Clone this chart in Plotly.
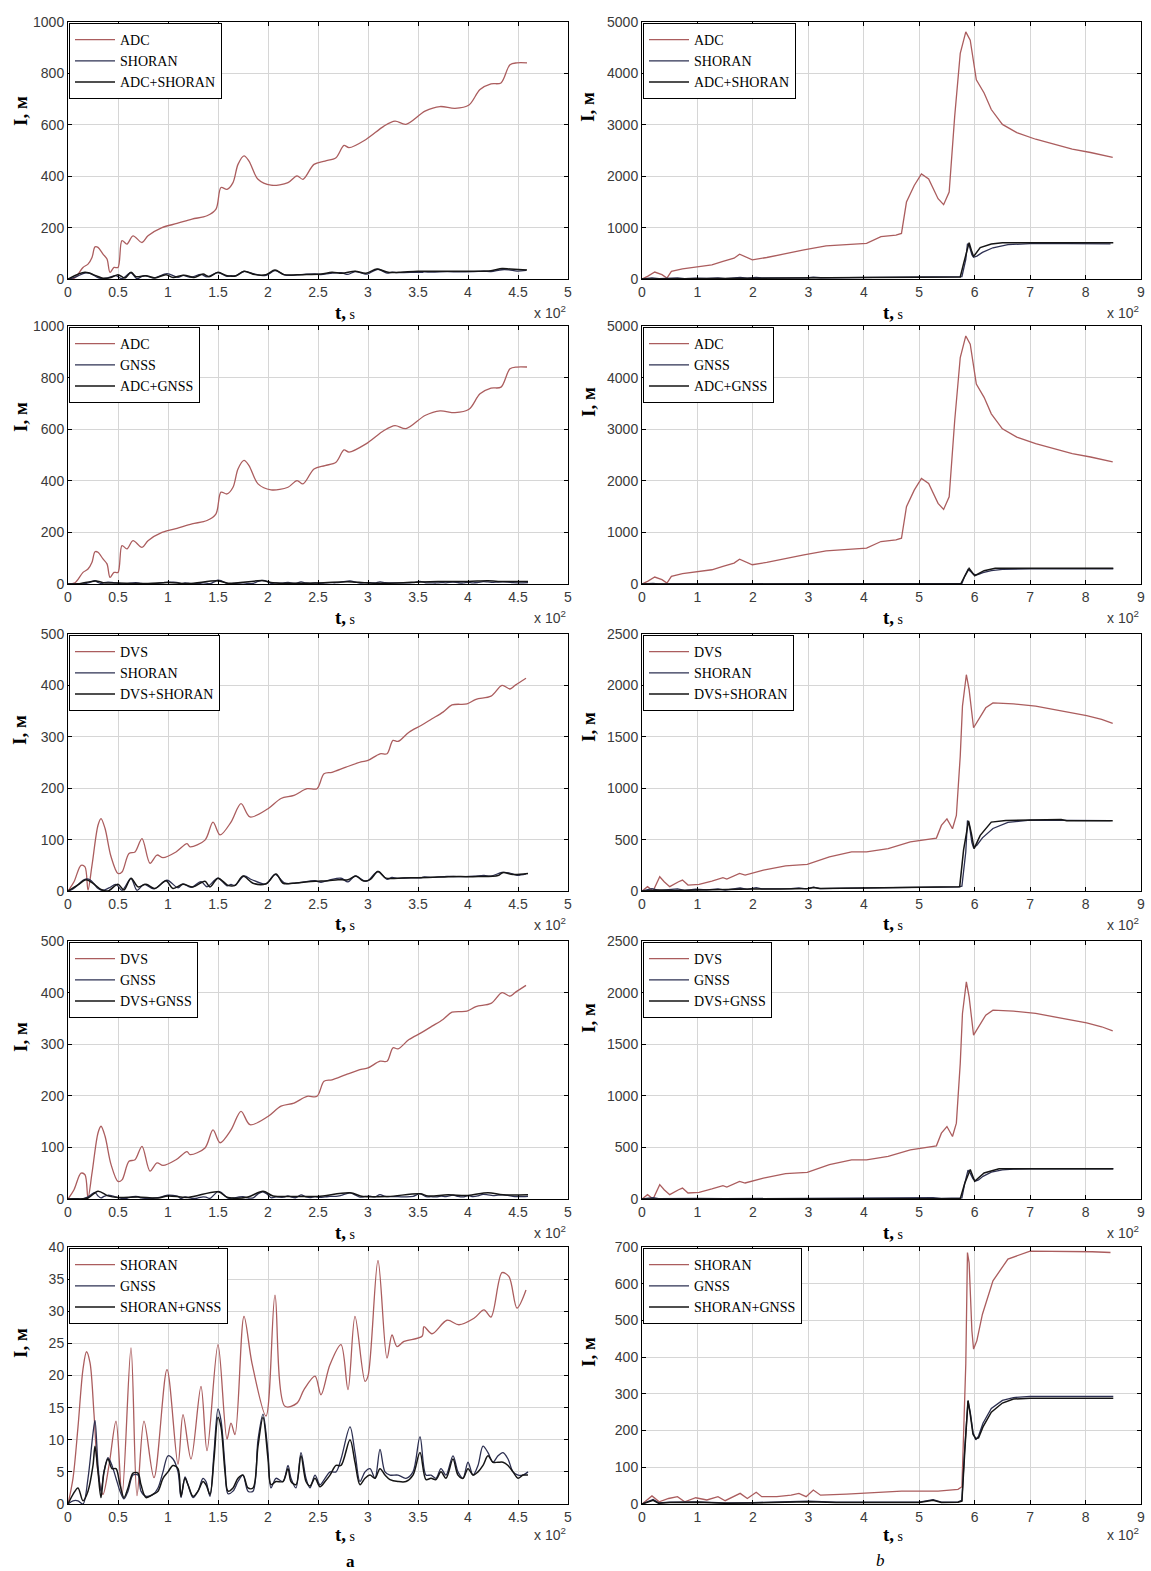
import plotly.graph_objects as go

# ===================== DATA (t in units of 10^2 s, I in m) =====================
# ---- left column (flight a) ----
t_adc_l = [0, 0.07, 0.15, 0.2, 0.24, 0.27, 0.3, 0.35, 0.39, 0.42, 0.46, 0.5, 0.54, 0.59, 0.65, 0.74, 0.8, 0.94, 1.09, 1.24,
           1.39, 1.48, 1.53, 1.59, 1.65, 1.70, 1.76, 1.81, 1.90, 2.03, 2.2, 2.29, 2.35, 2.46, 2.57, 2.68, 2.76, 2.81, 2.98, 3.16,
           3.27, 3.38, 3.57, 3.72, 3.87, 4.01, 4.12, 4.23, 4.33, 4.42, 4.49, 4.59]
adc_l = [0, 5, 45, 58, 84, 125, 123, 97, 78, 26, 45, 45, 149, 136, 168, 142, 168, 200, 216, 233,
         246, 272, 356, 349, 375, 446, 479, 459, 388, 365, 375, 401, 388, 446, 459, 472, 520, 511, 543, 595,
         614, 602, 653, 671, 664, 677, 737, 759, 763, 834, 841, 841]

t_dvs_l = [0, 0.06, 0.13, 0.17, 0.2, 0.24, 0.3, 0.33, 0.37, 0.43, 0.5, 0.54, 0.61, 0.67, 0.74, 0.82, 0.89, 0.95, 1.08, 1.19,
           1.22, 1.37, 1.45, 1.52, 1.63, 1.73, 1.82, 2.0, 2.13, 2.26, 2.39, 2.49, 2.56, 2.64, 2.78, 2.93, 3.0, 3.12, 3.19, 3.25,
           3.30, 3.41, 3.53, 3.64, 3.75, 3.84, 3.99, 4.08, 4.23, 4.34, 4.42, 4.47, 4.58]
dvs_l = [0, 18, 50, 47, 2, 50, 128, 141, 122, 67, 34, 37, 73, 76, 102, 54, 70, 65, 76, 92,
         86, 99, 134, 109, 134, 170, 144, 160, 180, 186, 199, 199, 228, 231, 241, 251, 254, 267, 267, 293,
         291, 309, 322, 335, 348, 362, 364, 373, 379, 400, 393, 400, 414]

t_sh_l = [0, 0.05, 0.1, 0.15, 0.185, 0.22, 0.26, 0.3, 0.35, 0.41, 0.48, 0.54, 0.63, 0.69, 0.76, 0.86, 0.99, 1.10, 1.15, 1.23,
          1.33, 1.39, 1.5, 1.59, 1.63, 1.67, 1.76, 1.84, 1.98, 2.07, 2.17, 2.29, 2.36, 2.47, 2.53, 2.62, 2.73, 2.80, 2.87, 2.97,
          3.0, 3.1, 3.19, 3.24, 3.29, 3.36, 3.54, 3.56, 3.64, 3.79, 3.91, 4.06, 4.16, 4.23, 4.34, 4.41, 4.49, 4.58]
sh_l = [0, 4, 12, 21, 23.7, 22, 14, 5, 1.5, 6, 12.9, 1.3, 24.3, 1.3, 12.9, 4.1, 20.9, 6.2, 13.9, 7,
        18.3, 8.3, 24.8, 10.1, 12.6, 10.8, 29.2, 21.9, 13.7, 32.5, 15.2, 15.7, 17.8, 19.9, 17.0, 21.7, 24.8, 17.8, 29.2, 19.1,
        19.9, 37.9, 22.7, 26.3, 24.5, 25.3, 26.1, 27.6, 26.5, 28.6, 27.9, 28.9, 30.2, 29.1, 36.0, 35.4, 30.5, 33.3]

t_g_l = [0, 0.05, 0.1, 0.15, 0.2, 0.25, 0.27, 0.3, 0.33, 0.36, 0.4, 0.44, 0.48, 0.52, 0.56, 0.6, 0.65, 0.7, 0.73, 0.78,
         0.85, 0.9, 0.95, 1.0, 1.05, 1.1, 1.13, 1.17, 1.2, 1.25, 1.3, 1.35, 1.38, 1.42, 1.46, 1.5, 1.53, 1.57, 1.6, 1.65,
         1.7, 1.75, 1.8, 1.85, 1.9, 1.95, 2.0, 2.03, 2.08, 2.15, 2.2, 2.23, 2.28, 2.33, 2.38, 2.42, 2.47, 2.52, 2.57, 2.62,
         2.68, 2.73, 2.82, 2.87, 2.92, 2.97, 3.02, 3.07, 3.12, 3.17, 3.22, 3.3, 3.38, 3.45, 3.52, 3.58, 3.63, 3.68, 3.73, 3.78,
         3.85, 3.9, 3.95, 4.0, 4.05, 4.1, 4.15, 4.2, 4.25, 4.3, 4.35, 4.4, 4.45, 4.5, 4.55, 4.6]
g_l = [0, 0.5, 0.5, 0, 4, 11, 13, 6, 2, 5, 7.2, 6, 4, 2, 0.8, 2, 4.5, 4.5, 2, 1.2,
       1.5, 2.5, 5, 7.5, 7, 5, 1, 4.2, 3, 1, 2, 4, 3.5, 1.2, 8, 14.8, 13, 6, 1.6, 2,
       3.5, 4.5, 2, 2, 10, 14, 8, 2.5, 4, 3.5, 6, 4, 2.5, 8, 4, 2.5, 4.5, 3, 4, 5,
       5, 7, 12, 8, 3.5, 5, 5.5, 4, 8.5, 5, 4.5, 4.5, 4, 5, 10.5, 4.5, 4.5, 4, 5.5, 4.5,
       7.5, 5, 4, 6.5, 4.5, 6, 9, 8, 6.5, 7.5, 8, 7, 5, 4.5, 4.5, 5]
sh_g_l = [0, 1.5, 2.5, 0.5, 2, 6, 9, 5, 1, 5, 7, 5.5, 5.5, 3, 1, 2.5, 4.8, 4.8, 3, 1,
          1.5, 2, 4, 5, 6, 5.5, 1.2, 4, 3, 1.2, 2, 3.5, 3, 1.5, 7, 13.5, 12, 5, 2, 2.5,
          4, 4.5, 2.5, 2.5, 9, 13.5, 7, 3, 3.5, 3.5, 5.5, 3.5, 3, 7.5, 3.5, 2.8, 4, 2.7, 3.5, 4.5,
          6, 6, 10, 6.5, 3, 4, 4.5, 4, 5.5, 4.5, 3.8, 3.5, 3.5, 4.5, 8, 3.8, 4, 3.8, 5, 4,
          7, 4.5, 4, 5.5, 4.5, 5, 6, 7.5, 6.5, 6.5, 6.5, 6, 5, 4, 4.5, 4.5]

t_adc_sh_l = [0, 0.17, 0.28, 0.35, 0.43, 0.5, 0.57, 0.63, 0.68, 0.78, 0.87, 0.98, 1.05, 1.16, 1.26, 1.35, 1.41, 1.5, 1.59, 1.68,
              1.76, 1.87, 1.98, 2.07, 2.16, 2.35, 2.53, 2.64, 2.74, 2.87, 2.98, 3.09, 3.2, 3.31, 3.5, 3.75, 4.01, 4.23, 4.34, 4.42, 4.59]
adc_sh_l = [0, 26, 13, 3, 6, 17, 4, 26, 9, 13, 4, 17, 6, 15, 6, 19, 9, 26, 13, 13,
            30, 17, 17, 35, 17, 17, 19, 26, 22, 30, 22, 39, 26, 26, 30, 30, 30, 32, 41, 39, 35]

t_adc_g_l = [0, 0.1, 0.28, 0.35, 0.5, 0.8, 1.0, 1.2, 1.5, 1.6, 1.95, 2.05, 2.5, 2.8, 3.0, 3.3, 3.52, 3.7, 4.0, 4.2, 4.3, 4.6]
adc_g_l = [0, 1, 12, 5, 4, 2, 6, 2, 12, 3, 13, 5, 4, 9, 4, 4, 8, 10, 10, 13, 10, 10]

t_dvs_sh_l = [0, 0.1, 0.18, 0.25, 0.33, 0.4, 0.5, 0.56, 0.63, 0.7, 0.78, 0.87, 0.98, 1.05, 1.15, 1.25, 1.37, 1.42, 1.5, 1.6,
              1.67, 1.75, 1.85, 1.98, 2.08, 2.15, 2.25, 2.4, 2.5, 2.6, 2.7, 2.8, 2.88, 2.95, 3.02, 3.1, 3.18, 3.3, 3.5, 3.7,
              3.9, 4.1, 4.3, 4.35, 4.45, 4.6]
dvs_sh_l = [0, 12, 22, 15, 3, 0, 13, 2, 25, 8, 13, 5, 20, 5, 13, 8, 19, 8, 25, 11,
            11, 29, 15, 14, 33, 15, 15, 18, 19, 20, 22, 22, 29, 20, 22, 38, 25, 25, 26, 27,
            28, 28, 30, 36, 32, 34]

t_dvs_g_l = [0, 0.1, 0.2, 0.3, 0.4, 0.5, 0.7, 0.9, 1.0, 1.2, 1.5, 1.6, 1.8, 1.95, 2.05, 2.3, 2.5, 2.82, 2.95, 3.2,
             3.52, 3.6, 3.8, 4.0, 4.2, 4.35, 4.6]
dvs_g_l = [0, 0, 2, 15, 6, 3, 4, 2, 6, 3, 14, 3, 4, 15, 6, 5, 5, 12, 5, 5,
           10, 6, 8, 7, 12, 8, 8]

# ---- right column (flight b) ----
t_adc_r = [0, 0.1, 0.23, 0.36, 0.45, 0.53, 0.73, 0.99, 1.26, 1.46, 1.66, 1.76, 1.86, 1.99, 2.25, 2.52, 2.92, 3.32, 3.71, 4.05,
           4.31, 4.58, 4.68, 4.77, 4.91, 5.04, 5.17, 5.34, 5.44, 5.54, 5.64, 5.74, 5.84, 5.92, 6.03, 6.17, 6.3, 6.5, 6.76, 7.1,
           7.43, 7.76, 8.09, 8.49]
adc_r = [0, 51, 135, 84, 19, 148, 199, 244, 276, 341, 405, 482, 437, 373, 418, 482, 566, 643, 675, 694,
         823, 855, 887, 1497, 1819, 2044, 1947, 1562, 1446, 1690, 3168, 4389, 4807, 4647, 3875, 3618, 3297, 3008, 2847, 2719,
         2622, 2526, 2461, 2365]

t_dvs_r = [0, 0.1, 0.2, 0.32, 0.4, 0.5, 0.66, 0.73, 0.83, 1.03, 1.26, 1.46, 1.53, 1.76, 1.86, 2.19, 2.59, 2.98, 3.38, 3.78,
           4.05, 4.44, 4.84, 5.11, 5.31, 5.4, 5.5, 5.6, 5.67, 5.74, 5.78, 5.85, 5.9, 5.98, 6.07, 6.2, 6.33, 6.7, 7.1, 7.36,
           7.63, 8.02, 8.29, 8.49]
dvs_r = [0, 42, 0, 139, 90, 42, 90, 106, 58, 64, 97, 129, 116, 171, 155, 203, 245, 258, 332, 380,
         380, 412, 477, 503, 515, 638, 702, 606, 735, 1314, 1798, 2104, 1959, 1588, 1669, 1782, 1830, 1820, 1798, 1772,
         1749, 1707, 1669, 1630]

t_sh_r = [0, 0.18, 0.31, 0.48, 0.64, 0.77, 0.97, 1.17, 1.37, 1.5, 1.77, 1.9, 2.06, 2.16, 2.43, 2.69, 2.83, 2.96, 3.09, 3.22,
          3.69, 4.35, 4.68, 5.34, 5.7, 5.77, 5.84, 5.87, 5.9, 5.95, 5.98, 6.04, 6.14, 6.33, 6.6, 7.0, 7.66, 8.12, 8.45]
sh_r = [0, 22, 6, 15, 20, 6, 17, 11, 20, 9, 29, 15, 32, 20, 20, 24, 29, 20, 38, 24,
        27, 31, 35, 35, 40, 47, 382, 685, 657, 472, 422, 445, 517, 608, 667, 689, 689, 687, 685]

t_g_r = [0, 0.2, 0.3, 0.5, 1.0, 1.5, 2.0, 2.5, 3.0, 3.5, 4.0, 4.5, 5.0, 5.25, 5.4, 5.7, 5.77, 5.82, 5.88, 5.92,
         5.97, 6.02, 6.07, 6.15, 6.3, 6.5, 6.7, 7.0, 8.0, 8.5]
g_r = [0, 12, 3, 5, 6, 3, 4, 5, 8, 5, 5, 5, 5, 12, 5, 6, 10, 150, 280, 250,
       195, 175, 185, 220, 260, 282, 290, 293, 293, 293]
sh_g_r = [0, 10, 2, 4, 5, 2, 3, 4, 6, 4, 4, 4, 4, 10, 4, 5, 8, 140, 282, 245,
          190, 178, 180, 210, 250, 275, 286, 288, 288, 288]

t_adc_sh_r = [0, 0.5, 1.0, 2.0, 2.7, 3.0, 4.0, 5.0, 5.74, 5.8, 5.9, 5.94, 5.98, 6.1, 6.3, 6.5, 7.0, 8.0, 8.5]
adc_sh_r = [0, 5, 10, 15, 20, 25, 30, 35, 40, 300, 707, 560, 437, 611, 681, 707, 707, 707, 707]

t_adc_g_r = [0, 1.0, 2.0, 3.0, 4.0, 5.0, 5.75, 5.82, 5.9, 6.0, 6.17, 6.37, 7.0, 8.0, 8.5]
adc_g_r = [0, 2, 2, 3, 3, 3, 5, 150, 303, 161, 258, 303, 303, 303, 303]

t_dvs_sh_r = [0, 0.3, 0.6, 1.0, 1.5, 2.0, 2.5, 3.0, 3.1, 3.2, 4.0, 4.5, 5.0, 5.7, 5.73, 5.8, 5.89, 5.94, 5.99, 6.1,
              6.3, 6.56, 7.03, 7.56, 7.66, 8.49]
dvs_sh_r = [0, 10, 5, 10, 15, 20, 20, 25, 35, 25, 30, 35, 35, 40, 42, 400, 683, 560, 412, 541,
            670, 686, 693, 696, 683, 683]

t_dvs_g_r = [0, 1.0, 2.0, 3.0, 4.0, 5.0, 5.74, 5.82, 5.92, 6.0, 6.17, 6.44, 7.0, 8.0, 8.5]
dvs_g_r = [0, 2, 2, 3, 3, 3, 3, 150, 285, 172, 252, 294, 294, 294, 294]

# axis ranges / ticks
y_max = [[1000, 5000], [1000, 5000], [500, 2500], [500, 2500], [40, 700]]
y_step = [[200, 1000], [200, 1000], [100, 500], [100, 500], [5, 100]]
x_ticks_l = [0, 0.5, 1, 1.5, 2, 2.5, 3, 3.5, 4, 4.5, 5]
x_ticks_r = [0, 1, 2, 3, 4, 5, 6, 7, 8, 9]

# ===================== FIGURE =====================
W, H = 1151, 1571
RED = "#ab5d5e"
NAVY = "#2d3052"
BLACK = "#151515"

COLS = [(68, 568), (642, 1141)]
ROWS = [(22, 279), (326, 584), (634, 891), (941, 1199), (1247, 1504)]
YLAB_Y = [[111, 107], [417, 402], [730, 727], [1037, 1018], [1343, 1352]]
YLAB_X = [20, 588]
TLAB_X = [345, 893]
TLAB_DY = [33, 33, 33, 33, 30]

panels = [
    [[("ADC", t_adc_l, adc_l, RED), ("SHORAN", t_sh_l, sh_l, NAVY), ("ADC+SHORAN", t_adc_sh_l, adc_sh_l, BLACK)],
     [("ADC", t_adc_r, adc_r, RED), ("SHORAN", t_sh_r, sh_r, NAVY), ("ADC+SHORAN", t_adc_sh_r, adc_sh_r, BLACK)]],
    [[("ADC", t_adc_l, adc_l, RED), ("GNSS", t_g_l, g_l, NAVY), ("ADC+GNSS", t_adc_g_l, adc_g_l, BLACK)],
     [("ADC", t_adc_r, adc_r, RED), ("GNSS", t_g_r, g_r, NAVY), ("ADC+GNSS", t_adc_g_r, adc_g_r, BLACK)]],
    [[("DVS", t_dvs_l, dvs_l, RED), ("SHORAN", t_sh_l, sh_l, NAVY), ("DVS+SHORAN", t_dvs_sh_l, dvs_sh_l, BLACK)],
     [("DVS", t_dvs_r, dvs_r, RED), ("SHORAN", t_sh_r, sh_r, NAVY), ("DVS+SHORAN", t_dvs_sh_r, dvs_sh_r, BLACK)]],
    [[("DVS", t_dvs_l, dvs_l, RED), ("GNSS", t_g_l, g_l, NAVY), ("DVS+GNSS", t_dvs_g_l, dvs_g_l, BLACK)],
     [("DVS", t_dvs_r, dvs_r, RED), ("GNSS", t_g_r, g_r, NAVY), ("DVS+GNSS", t_dvs_g_r, dvs_g_r, BLACK)]],
    [[("SHORAN", t_sh_l, sh_l, RED), ("GNSS", t_g_l, g_l, NAVY), ("SHORAN+GNSS", t_g_l, sh_g_l, BLACK)],
     [("SHORAN", t_sh_r, sh_r, RED), ("GNSS", t_g_r, g_r, NAVY), ("SHORAN+GNSS", t_g_r, sh_g_r, BLACK)]],
]

fig = go.Figure()
layout = dict(width=W, height=H, margin=dict(l=0, r=0, t=0, b=0, autoexpand=False),
              paper_bgcolor="white", plot_bgcolor="white", showlegend=True)
annotations = []

TICKFONT = dict(family="Liberation Sans, Arial", size=14, color="#3a3a3a")
SERIF = "Liberation Serif, Times New Roman"

k = 0
for r in range(5):
    for c in range(2):
        k += 1
        x0, x1 = COLS[c]
        top, bot = ROWS[r]
        xa = "x" if k == 1 else f"x{k}"
        ya = "y" if k == 1 else f"y{k}"
        lg = "legend" if k == 1 else f"legend{k}"
        for (name, tx, vy, col) in panels[r][c]:
            fig.add_trace(go.Scatter(
                x=tx, y=vy, name=name, mode="lines", xaxis=xa, yaxis=ya, legend=lg,
                line=dict(color=col, width=1.3 if col != BLACK else 1.5,
                          shape="spline" if c == 0 else "linear", smoothing=0.9 if c == 0 else None),
                hoverinfo="skip"))
        ticks = x_ticks_l if c == 0 else x_ticks_r
        axis_common = dict(showline=True, linecolor="black", linewidth=1, mirror="ticks",
                           ticks="inside", ticklen=4, tickcolor="black", showgrid=True,
                           gridcolor="#d6d6d6", gridwidth=1, zeroline=False, tickfont=TICKFONT)
        layout["xaxis" if k == 1 else f"xaxis{k}"] = dict(
            domain=[x0 / W, x1 / W], anchor=ya, range=[0, ticks[-1]],
            tickvals=ticks, ticktext=[f"{v:g}" for v in ticks], **axis_common)
        layout["yaxis" if k == 1 else f"yaxis{k}"] = dict(
            domain=[1 - bot / H, 1 - top / H], anchor=xa, range=[0, y_max[r][c]],
            dtick=y_step[r][c], tick0=0, **axis_common)
        layout[lg] = dict(x=(x0 + 1) / W, y=1 - (top + 1) / H, xanchor="left", yanchor="top",
                          bgcolor="white", bordercolor="black", borderwidth=1,
                          font=dict(family=SERIF, size=14, color="black"),
                          tracegroupgap=0, itemwidth=40, traceorder="normal")
        # axis labels
        annotations.append(dict(text='<b>t,</b><span style="font-size:14px"> s</span>',
                                x=TLAB_X[c] / W, y=1 - (bot + TLAB_DY[r]) / H, xref="paper", yref="paper",
                                showarrow=False, font=dict(family=SERIF, size=19, color="black"),
                                xanchor="center", yanchor="middle"))
        annotations.append(dict(text="x 10<sup>2</sup>", x=x1 / W, y=1 - (bot + TLAB_DY[r]) / H,
                                xref="paper", yref="paper", showarrow=False,
                                font=dict(family="Liberation Sans, Arial", size=14, color="#3a3a3a"),
                                xanchor="right", yanchor="middle"))
        annotations.append(dict(text="<b>I, м</b>", x=YLAB_X[c] / W, y=1 - YLAB_Y[r][c] / H,
                                xref="paper", yref="paper", showarrow=False, textangle=-90,
                                font=dict(family=SERIF, size=19, color="black"),
                                xanchor="center", yanchor="middle"))

annotations.append(dict(text="<b>a</b>", x=350 / W, y=1 - 1561 / H, xref="paper", yref="paper",
                        showarrow=False, font=dict(family=SERIF, size=17, color="black"),
                        xanchor="center", yanchor="middle"))
annotations.append(dict(text="<i>b</i>", x=880 / W, y=1 - 1560 / H, xref="paper", yref="paper",
                        showarrow=False, font=dict(family=SERIF, size=17, color="black"),
                        xanchor="center", yanchor="middle"))
layout["annotations"] = annotations
fig.update_layout(**layout)
fig.write_html("out.html")
